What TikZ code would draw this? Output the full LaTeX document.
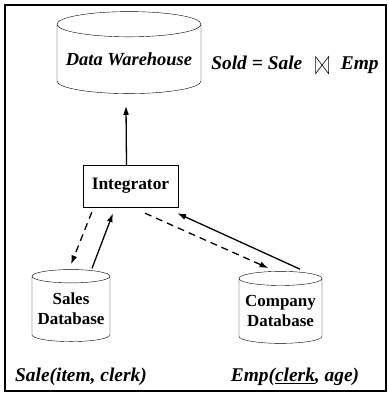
\documentclass[tikz,border=0pt]{standalone}
\usepackage{fontspec}
\setmainfont{Liberation Serif}
\usetikzlibrary{shapes.geometric,arrows.meta,calc}

% thin join symbol
\newcommand{\joinop}{\tikz[baseline=0pt, x=1bp, y=1bp, line width=0.6pt]
  \draw (0,-4) -- (0,13) -- (13,-4) -- (13,13) -- cycle;}

\tikzset{
  dbase/.style={draw, cylinder, shape border rotate=90, aspect=0.2, align=center,
    font=\fontsize{17}{20}\selectfont\bfseries, inner sep=0pt},
  flow/.style={line width=1.3pt, -{Latex[length=9pt,width=6pt]}},
  query/.style={flow, dash pattern=on 7pt off 5pt},
  rel/.style={font=\fontsize{19.5}{22}\selectfont\bfseries\itshape}
}

\begin{document}
\begin{tikzpicture}[x=1bp,y=-1bp]
\useasboundingbox (0,0) rectangle (389,395);
\draw[line width=2pt] (5,5) rectangle (386,391);

% warehouse and the two sources
\node[dbase, minimum width=144bp, minimum height=82bp, font=\fontsize{18.5}{20}\selectfont\bfseries\itshape] (dw) at (129,59) {Data Warehouse};
\node[dbase, minimum width=78bp, minimum height=72bp] (sales) at (71,309) {Sales\\Database};
\node[dbase, minimum width=83bp, minimum height=72bp] (comp) at (280.5,311) {Company\\Database};
\node[draw, minimum width=95bp, minimum height=42bp, font=\fontsize{17.5}{20}\selectfont\bfseries] (integ) at (130.5,186) {Integrator};

% arrows
\draw[flow] ($(integ.north)+(-4,0)$) -- ($(dw.south)+(-3,12)$);
\draw[query] ($(integ.south west)+(9,5)$) -- ($(sales.north)+(0,-5)$);
\draw[flow] ($(sales.north)+(21,-1)$) -- ($(integ.south)+(-17.5,6)$);
\draw[query] ($(integ.south)+(14.5,6)$) -- ($(comp.north)+(-12,-3)$);
\draw[flow] ($(comp.north)+(19.5,-2)$) -- ($(integ.south east)+(-1,6)$);

% relations
\node[rel] (sold) at (295,65) {Sold = Sale\hspace{13bp}\joinop\hspace{12bp}Emp};
\node[rel] (salerel) at (81,377) {Sale(item, clerk)};
\node[rel] (emprel) at (295,377) {Emp(\underline{clerk}, age)};
\end{tikzpicture}
\end{document}
